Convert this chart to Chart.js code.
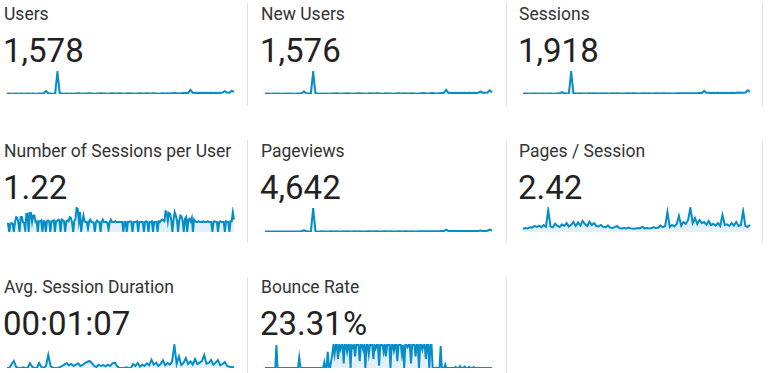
<!DOCTYPE html>
<html>
<head>
<meta charset="utf-8">
<script src="https://cdn.jsdelivr.net/npm/chart.js@4"></script>
<style>
  html, body { margin:0; padding:0; background:#fff; }
  body { width:768px; height:373px; position:relative; overflow:hidden; font-family: Roboto, "Noto Sans", sans-serif; }
  .title { position:absolute; font-size:17.5px; line-height:17.5px; color:#333; white-space:nowrap; }
  .total { position:absolute; font-size:33px; line-height:33px; color:#222; white-space:nowrap; }
  .sep { position:absolute; width:1px; background:#e0e0e0; }
  canvas { position:absolute; }
</style>
</head>
<body>
<script>
// ---- data ----
const titles = ["Users", "New Users", "Sessions", "Number of Sessions per User", "Pageviews", "Pages / Session", "Avg. Session Duration", "Bounce Rate"];
const totals = ["1,578", "1,576", "1,918", "1.22", "4,642", "2.42", "00:01:07", "23.31%"];

const users = [2,3,2,2,3,2,3,2,2,3,2,3,2,2,3,3,4,16,4,3,2,3,120,4,3,2,3,2,3,2,3,4,3,2,3,3,4,3,2,3,3,4,3,3,2,3,4,3,3,4,3,2,3,4,3,3,2,3,4,3,3,4,3,3,4,3,2,3,4,3,4,3,4,5,4,3,4,5,6,5,22,7,6,7,6,7,6,7,6,7,6,7,6,7,8,16,8,7,18,12];
const newUsers = [2,3,2,2,3,2,3,2,2,3,2,3,2,2,3,3,4,14,4,3,3,120,4,3,2,3,2,3,2,3,3,4,3,2,3,3,4,3,2,3,3,4,3,3,2,3,4,3,3,4,3,2,3,4,3,3,2,3,4,3,3,4,3,3,4,3,2,3,4,6,4,3,4,5,4,3,4,5,6,22,6,7,6,7,6,7,6,7,6,7,6,7,6,7,14,7,7,8,20,10];
const sessions = [2,3,3,2,3,3,3,2,3,3,2,3,3,2,3,3,4,12,4,3,3,140,5,3,3,4,3,3,3,4,3,4,3,3,4,3,4,3,3,4,3,4,3,3,3,4,4,3,4,4,3,3,4,4,3,4,3,3,4,4,3,4,4,3,4,3,3,4,5,4,4,4,5,5,4,4,5,6,6,20,8,8,7,8,7,8,7,8,7,8,7,8,7,8,9,8,8,9,24,14];
const sessionsPerUser = [1.0,1.0,0,1.0,1.1,1.0,0,1.2,1.8,1.7,1.1,0,1.8,1.8,1.2,1.1,0.2,2.2,2.2,0,2.3,2.3,1.2,2.0,2.0,1.2,1.3,0,1.3,1.3,1.4,0,1.3,1.3,0,1.3,1.4,1.3,0,1.3,1.3,1.4,0,1.3,1.3,1.5,1.4,0,1.5,1.4,1.3,0,1.3,1.4,1.3,1.8,1.7,1.2,0,1.3,1.6,2.9,2.8,1.3,2.4,0,1.2,2.0,1.3,1.2,1.2,0.4,1.3,1.5,1.2,1.2,1.1,0,1.2,1.4,1.2,1.2,0,1.2,1.5,1.2,1.2,1.2,1.1,0.3,1.2,1.5,1.2,1.2,1.2,1.3,1.2,1.2,1.2,1.2,1.2,1.2,0,1.2,1.2,0,1.2,1.2,1.3,1.2,0,1.2,1.2,1.2,1.3,0,1.2,1.2,1.2,1.2,0,1.2,1.3,1.2,0,1.2,1.2,1.3,0,1.2,1.2,1.2,0,1.3,1.2,1.4,1.5,1.4,1.3,2.5,2.4,1.3,2.3,2.2,1.4,0,1.5,2.4,2.0,1.4,0,1.4,2.0,1.9,1.3,0,1.6,1.8,0,1.5,1.6,1.3,1.7,0,1.5,1.3,1.2,1.2,1.3,1.2,1.2,1.2,1.3,1.2,1.2,1.2,1.3,1.2,1.2,1.2,0,1.2,1.3,1.2,1.2,0,1.2,1.3,1.2,1.2,1.2,0,1.3,1.2,1.2,0,1.3,1.3,2.4,1.5];
const pageviews = [5,6,5,6,5,6,5,6,5,6,5,6,5,6,5,6,8,24,8,6,6,300,10,6,6,8,6,6,6,8,6,8,6,6,8,6,8,6,6,8,6,8,6,6,6,8,8,6,8,8,6,6,8,8,6,8,6,6,8,8,6,8,8,6,8,6,6,8,10,8,8,8,10,10,8,8,10,12,12,30,14,14,12,14,12,14,12,14,12,14,12,14,12,14,18,14,14,16,30,20];
const pagesPerSession = [1.5,2.0,1.8,2.4,2.2,3.0,2.5,3.2,2.4,3.5,2.6,11.0,2.8,2.4,4.2,3.0,2.5,3.8,3.0,4.5,2.7,3.6,5.0,3.0,4.8,3.2,5.5,4.0,3.0,5.2,3.5,4.4,3.0,2.8,3.5,2.6,2.4,3.2,2.2,2.0,2.4,3.0,2.0,1.8,2.0,1.8,2.2,1.8,1.6,1.8,2.0,1.8,2.6,1.8,2.0,1.8,2.0,2.4,2.0,2.2,3.2,2.4,3.0,10.0,2.6,3.5,2.8,4.0,8.0,3.2,5.0,4.0,6.0,12.0,4.5,7.0,4.0,6.0,4.5,5.0,3.6,5.5,3.5,4.0,3.2,4.5,3.0,8.5,3.5,3.8,3.0,4.5,3.2,5.0,3.0,3.5,10.5,3.0,2.6,3.5];
const avgDuration = [0,0,120,210,30,0,0,20,0,0,150,40,0,0,150,30,0,60,390,60,0,0,0,20,60,100,150,80,120,60,100,140,60,90,150,180,210,150,60,30,100,60,90,50,100,60,140,160,60,0,0,0,20,0,0,120,60,150,40,100,60,140,80,250,100,160,60,120,230,80,150,100,200,690,120,350,90,150,300,120,200,100,270,120,160,210,390,130,150,240,100,160,240,80,120,180,60,40,30,20];
const bounceRate = [0,0,0,0,0,0,0,0,0,0,100,0,0,0,0,0,0,0,0,0,0,0,0,0,0,0,0,0,0,0,45,5,0,0,0,0,0,0,0,0,0,0,0,0,0,0,0,0,0,0,0,0,25,0,0,70,5,0,30,60,100,60,100,100,40,100,80,100,100,20,100,100,70,100,100,0,100,90,100,50,100,100,100,30,100,100,80,100,0,100,100,60,100,100,100,40,100,85,100,100,10,100,100,100,70,100,50,100,100,100,0,100,100,75,100,100,30,100,100,100,60,100,0,100,100,90,100,100,20,100,100,100,50,100,100,0,100,100,80,100,100,40,100,100,0,100,100,0,0,0,2,0,0,0,95,0,0,0,15,0,0,0,0,0,0,0,0,5,0,0,0,8,0,0,0,6,0,0,0,5,0,0,0,4,0,0,0,0,0,0,0,0,0,0,0,0,0,0,0,0];

// ---- layout ----
const series = [users, newUsers, sessions, sessionsPerUser, pageviews, pagesPerSession, avgDuration, bounceRate];
const colText = [4, 261, 519];
const colSpark = [7, 265, 523];
const rowOff = [0, 136.5, 273];
const sparkTop = [72, 208, 345];
const sparkH = [22, 24, 23];
const sparkW = 227;
const pad = 2;

// separators
[[247,3,106],[506,3,106],[762,3,106],[247,140,243],[506,140,243],[762,140,243],[247,277,373],[506,277,373]].forEach(s => {
  const d = document.createElement('div');
  d.className = 'sep';
  d.style.left = s[0] + 'px'; d.style.top = s[1] + 'px'; d.style.height = (s[2]-s[1]) + 'px';
  document.body.appendChild(d);
});

series.forEach((data, k) => {
  const r = Math.floor(k / 3), c = k % 3;
  const t = document.createElement('div');
  t.className = 'title'; t.textContent = titles[k];
  t.style.left = colText[c] + 'px'; t.style.top = (6.3 + rowOff[r]) + 'px';
  document.body.appendChild(t);
  const v = document.createElement('div');
  v.className = 'total'; v.textContent = totals[k];
  v.style.left = (colText[c] - 1) + 'px'; v.style.top = (34.2 + rowOff[r]) + 'px';
  document.body.appendChild(v);

  const cv = document.createElement('canvas');
  cv.width = sparkW + 2*pad; cv.height = sparkH[r] + 2*pad;
  cv.style.left = (colSpark[c] - pad) + 'px';
  cv.style.top = (sparkTop[r] - pad) + 'px';
  document.body.appendChild(cv);
  new Chart(cv, {
    type: 'line',
    data: {
      labels: data.map((_, i) => i),
      datasets: [{
        data: data,
        borderColor: '#058dc7',
        backgroundColor: '#e3f0fa',
        borderWidth: 2,
        fill: 'origin',
        pointRadius: 0,
        tension: 0
      }]
    },
    options: {
      responsive: false,
      animation: false,
      layout: { padding: pad },
      plugins: { legend: { display: false }, tooltip: { enabled: false } },
      scales: {
        x: { display: false },
        y: { display: false, min: 0, bounds: 'data', grace: 0 }
      }
    }
  });
});
</script>
</body>
</html>
